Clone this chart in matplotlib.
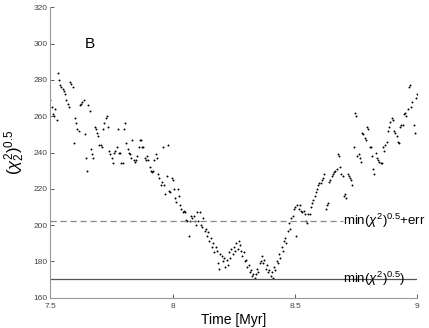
import numpy as np
import matplotlib
matplotlib.use("Agg")
import matplotlib.pyplot as plt

plt.rcParams['font.family'] = ['Liberation Sans', 'DejaVu Sans']
plt.rcParams['mathtext.fontset'] = 'custom'
plt.rcParams['mathtext.rm'] = 'Liberation Sans'
plt.rcParams['mathtext.it'] = 'Liberation Sans:italic'

chi_vals = [
    269, 265, 261, 260, 264, 258, 284, 280, 277, 276,
    275, 274, 272, 269, 267, 265, 279, 278, 276, 245,
    259, 256, 253, 252, 266, 267, 268, 269, 250, 237,
    230, 266, 263, 242, 239, 237, 254, 253, 251, 249,
    244, 244, 243, 253, 256, 259, 260, 254, 241, 239,
    237, 234, 240, 241, 243, 253, 240, 240, 234, 234,
    253, 256, 245, 242, 240, 239, 237, 247, 236, 235,
    236, 238, 243, 247, 247, 243, 243, 237, 236, 238,
    236, 232, 230, 229, 230, 236, 239, 237, 228, 226,
    222, 224, 243, 222, 217, 227, 244, 219, 218, 226,
    225, 220, 215, 213, 220, 216, 211, 209, 207, 208,
    207, 203, 202, 194, 202, 205, 204, 205, 202, 200,
    207, 202, 207, 200, 199, 204, 197, 198, 194, 196,
    191, 193, 188, 190, 185, 188, 186, 179, 176, 184,
    183, 180, 182, 177, 181, 178, 185, 182, 187, 184,
    188, 186, 190, 187, 191, 189, 186, 183, 185, 180,
    181, 177, 178, 174, 175, 172, 173, 171, 173, 176,
    174, 179, 180, 183, 179, 181, 176, 178, 174, 175,
    172, 174, 171, 177, 175, 180, 179, 184, 182, 188,
    186, 191, 193, 190, 197, 201, 198, 204, 205, 209,
    210, 194, 211, 209, 211, 208, 207, 208, 206, 202,
    201, 206, 206, 210, 212, 214, 216, 218, 220, 222,
    223, 223, 225, 226, 228, 209, 211, 212, 224, 225,
    227, 228, 229, 230, 231, 239, 238, 232, 228, 227,
    216, 217, 215, 228, 227, 226, 225, 222, 243, 262,
    260, 238, 239, 237, 235, 251, 250, 248, 247, 254,
    253, 243, 243, 238, 231, 228, 240, 237, 236, 235,
    234, 234, 243, 241, 244, 246, 252, 254, 257, 259,
    258, 252, 251, 249, 246, 245, 254, 255, 255, 261,
    262, 260, 264, 276, 277, 265, 268, 255, 251, 270,
    272,
]
time_myr = np.linspace(7.5, 9.0, len(chi_vals))

chi_min = 170.5
chi_min_err = 202.5

x_ticks = [7.5, 8, 8.5, 9]
x_tick_labels = ['7.5', '8', '8.5', '9']
y_ticks = [160, 180, 200, 220, 240, 260, 280, 300, 320]

fig = plt.figure(figsize=(4.29, 3.28), dpi=100)
ax = fig.add_axes([0.1177, 0.0924, 0.855, 0.8853])

ax.plot(time_myr, chi_vals, 'o', color='black', markersize=1.4, markeredgewidth=0)

# reference levels
ax.plot([7.5, 8.695], [chi_min_err, chi_min_err], '--', color='#8a8a8a', linewidth=0.9, dashes=(5, 3))
ax.plot([7.5, 9.0], [chi_min, chi_min], '-', color='#555555', linewidth=0.9)
ax.text(8.697, chi_min_err, r'min$(\chi^2)^{0.5}$+err', fontsize=9.5, va='center', ha='left', clip_on=False)
ax.text(8.697, chi_min, r'min$(\chi^2)^{0.5})$', fontsize=9.5, va='center', ha='left')

ax.text(7.64, 300, 'B', fontsize=11, ha='left', va='center')

ax.set_xlim(7.5, 9.0)
ax.set_ylim(160, 320)
ax.set_xticks(x_ticks)
ax.set_xticklabels(x_tick_labels)
ax.set_yticks(y_ticks)
ax.tick_params(direction='in', length=3, width=0.6, labelsize=6, colors='#444444', pad=2)
ax.tick_params(axis='x', pad=4)

for side in ['top', 'right']:
    ax.spines[side].set_visible(False)
for side in ['left', 'bottom']:
    ax.spines[side].set_color('#999999')
    ax.spines[side].set_linewidth(0.8)

ax.set_xlabel('Time [Myr]', fontsize=10, labelpad=2)
ax.set_ylabel(r'$(\chi_2^2)^{0.5}$', fontsize=12, labelpad=5)

fig.savefig('out.png', dpi=100)
